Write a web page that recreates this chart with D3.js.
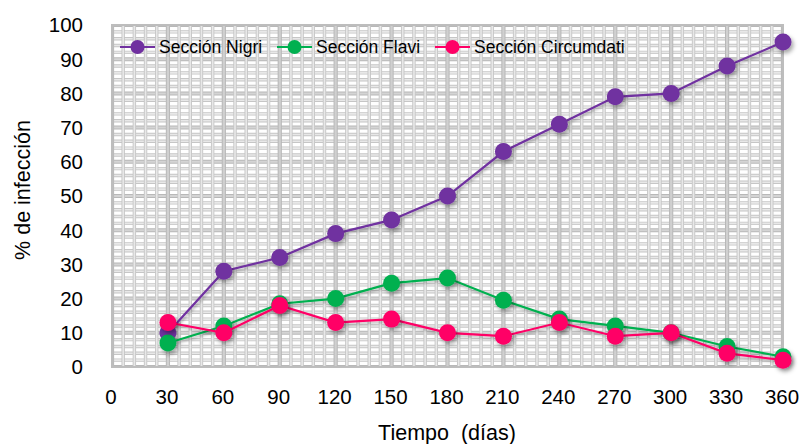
<!DOCTYPE html>
<html><head><meta charset="utf-8">
<script src="https://cdn.jsdelivr.net/npm/d3@7"></script>
<style>
body{margin:0;background:#fff;}
text{font-family:"Liberation Sans",Arial,sans-serif;fill:#000;}
</style></head>
<body><svg id="c" width="804" height="444"></svg>
<script>
const days = [30,60,90,120,150,180,210,240,270,300,330,360];
const nigri = [10,28,32,39,43,50,63,71,79,80,88,95];
const flavi = [7,12,18.5,20,24.5,26,19.5,14,12,10,6,3];
const circumdati = [13,10,18,13,14,10,9,13,9,10,4,2];
const seriesNames = ["Sección Nigri","Sección Flavi","Sección Circumdati"];
const seriesColors = ["#7030A0","#00B050","#FF0066"];
const xTicks = [0,30,60,90,120,150,180,210,240,270,300,330,360];
const yTicks = [0,10,20,30,40,50,60,70,80,90,100];

const svg = d3.select("#c");
const L=112, R=783, T=25, B=367;
const x = d3.scaleLinear().domain([0,360]).range([L,R]);
const y = d3.scaleLinear().domain([0,100]).range([B,T]);

const defs = svg.append("defs");
const f = defs.append("filter").attr("id","sh").attr("x","-50%").attr("y","-50%").attr("width","200%").attr("height","200%");
f.append("feDropShadow").attr("dx",2).attr("dy",3).attr("stdDeviation",2).attr("flood-color","#000").attr("flood-opacity",0.35);
const fl = defs.append("filter").attr("id","shl").attr("x","-10%").attr("y","-10%").attr("width","120%").attr("height","120%");
fl.append("feDropShadow").attr("dx",1).attr("dy",2).attr("stdDeviation",1.5).attr("flood-color","#000").attr("flood-opacity",0.3);
defs.append("clipPath").attr("id","pc").append("rect").attr("x",L).attr("y",T).attr("width",R-L).attr("height",B-T);

// background pattern grid
const g = svg.append("g").attr("clip-path","url(#pc)");
g.append("rect").attr("x",L).attr("y",T).attr("width",R-L).attr("height",B-T).attr("fill","#fff");
const minorY = d3.range(0,100.01,2);
const minorX = d3.range(0,360.01,6);
function band(sel, outer, inner, wo, wi){
  sel.each(function(d){
    const s = d3.select(this);
    s.append("line").attr("class","o").attr("stroke",outer(d)).attr("stroke-width",wo(d));
    s.append("line").attr("class","i").attr("stroke",inner(d)).attr("stroke-width",wi(d));
  });
}
const hy = g.selectAll(".hy").data(minorY).join("g");
band(hy, d=>d%10===0?"#b8b8b8":"#c6c6c6", d=>d%10===0?"#d4d4d4":"#e8e8e8", d=>d%10===0?4:3.4, d=>d%10===0?2:1.6);
hy.selectAll("line").attr("x1",L).attr("x2",R).attr("y1",d=>y(d)).attr("y2",d=>y(d));
const vx = g.selectAll(".vx").data(minorX).join("g");
band(vx, d=>d%30===0?"#b8b8b8":"#c6c6c6", d=>d%30===0?"#d0d0d0":"#e8e8e8", d=>d%30===0?4.2:3.4, d=>d%30===0?2.2:1.6);
vx.selectAll("line").attr("y1",T).attr("y2",B).attr("x1",d=>x(d)).attr("x2",d=>x(d));
svg.append("rect").attr("x",L).attr("y",T).attr("width",R-L).attr("height",B-T)
 .attr("fill","none").attr("stroke","#bdbdbd").attr("stroke-width",2);

// axes labels
svg.append("g").selectAll("text").data(yTicks).join("text")
 .attr("x",83).attr("y",d=>y(d)).attr("dy","0.36em").attr("text-anchor","end")
 .style("font-size","20.5px").text(d=>d);
svg.append("g").selectAll("text").data(xTicks).join("text")
 .attr("x",d=>x(d)-1).attr("y",397).attr("dy","0.36em").attr("text-anchor","middle")
 .style("font-size","20.5px").text(d=>d);
svg.append("text").attr("transform","translate(30,190) rotate(-90)").attr("text-anchor","middle")
 .style("font-size","21.5px").text("% de infección");
svg.append("text").attr("x",447).attr("y",432).attr("dy","0.36em").attr("text-anchor","middle")
 .style("font-size","21.5px").attr("xml:space","preserve").text("Tiempo  (días)");

const data = [nigri, flavi, circumdati];
const line = d3.line().x((d,i)=>x(days[i])).y(d=>y(d));
data.forEach((vals,k)=>{
  const sg = svg.append("g");
  sg.append("path").attr("d",line(vals)).attr("fill","none").attr("stroke",seriesColors[k]).attr("stroke-width",2.2).attr("filter","url(#shl)");
  sg.selectAll("circle").data(vals).join("circle")
   .attr("cx",(d,i)=>x(days[i])).attr("cy",d=>y(d)).attr("r",8.5)
   .attr("fill",seriesColors[k]).attr("filter","url(#sh)");
});

// legend
const legX = [120,277,435];
const lg = svg.append("g");
seriesNames.forEach((n,k)=>{
  const lx = legX[k], ly = 47;
  lg.append("line").attr("x1",lx).attr("x2",lx+35).attr("y1",ly).attr("y2",ly).attr("stroke",seriesColors[k]).attr("stroke-width",2);
  lg.append("circle").attr("cx",lx+17.5).attr("cy",ly).attr("r",7).attr("fill",seriesColors[k]);
  lg.append("text").attr("x",lx+39).attr("y",ly).attr("dy","0.36em").style("font-size","17.5px").text(n);
});
</script></body></html>
